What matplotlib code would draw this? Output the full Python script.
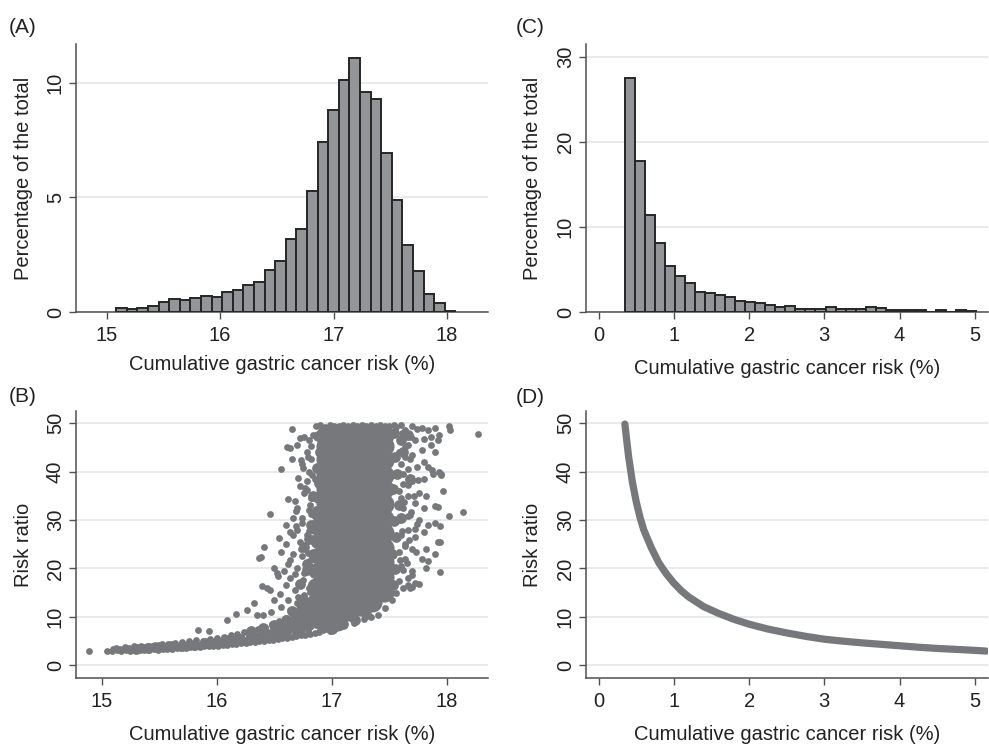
import numpy as np
import matplotlib
matplotlib.use("Agg")
import matplotlib.pyplot as plt

plt.rcParams['font.family'] = ['Liberation Sans', 'DejaVu Sans']

# (A) histogram, bins of 0.0934 starting at 15.085
a_first_edge = 15.085
a_bin_width = 0.0934
a_pct = [0.16, 0.12, 0.19, 0.25, 0.42, 0.55, 0.52, 0.62, 0.71, 0.64,
         0.89, 0.97, 1.19, 1.32, 1.82, 2.24, 3.20, 3.63, 5.29, 7.41,
         8.82, 10.12, 11.10, 9.59, 9.27, 6.92, 4.88, 2.94, 1.77, 0.78,
         0.39, 0.06]

# (C) histogram, bins of 0.133 starting at 0.35
c_first_edge = 0.35
c_bin_width = 0.1333
c_pct = [27.46, 17.70, 11.36, 8.07, 5.37, 4.23, 3.41, 2.35, 2.27, 2.00,
         1.80, 1.29, 1.21, 1.10, 0.82, 0.55, 0.67, 0.39, 0.39, 0.39,
         0.55, 0.31, 0.31, 0.31, 0.59, 0.43, 0.24, 0.27, 0.20, 0.20,
         0.04, 0.20, 0.04, 0.20, 0.08]

# (B) scatter: dense core of the cloud
b_core_x = [16.95] * 13 + [17.05] * 13 + [17.15] * 13 + [17.25] * 13 + [17.35] * 13 + [17.45] * 12
b_core_y = [12.4, 15.6, 18.5, 21.4, 24.6, 27.5, 30.4, 33.6, 36.5, 39.4, 42.6, 45.3, 47.6,
            10.9, 14.1, 17.0, 20.1, 22.9, 26.0, 29.1, 32.0, 35.1, 37.9, 41.0, 44.1, 47.5,
            11.3, 14.4, 17.4, 20.3, 23.4, 26.6, 29.4, 32.5, 35.6, 38.4, 41.5, 44.6, 47.6,
            12.2, 15.1, 18.2, 21.2, 24.3, 27.2, 30.3, 33.4, 36.3, 39.2, 42.4, 45.4, 47.5,
            13.1, 16.2, 19.1, 22.0, 25.1, 28.2, 31.1, 34.2, 37.1, 40.2, 43.1, 45.9, 47.6,
            15.2, 18.3, 21.3, 24.2, 27.4, 30.2, 33.3, 36.4, 39.3, 42.3, 45.2, 47.5]
b_core2_x = [16.85, 16.85, 16.85, 16.86, 16.87, 16.88, 16.76, 16.76, 16.66, 16.58,
             16.95, 17.05, 16.86, 16.88]
b_core2_y = [10.2, 13.3, 16.4, 19.5, 22.6, 25.7, 9.4, 12.3, 8.6, 7.6,
             9.4, 8.8, 28.6, 31.4]

# (B) scatter: thick parts of the lower band and ragged edges of the core
b_mid_x = [15.30, 15.40, 15.50, 15.60, 15.70, 15.80, 15.90, 16.00, 16.10, 16.20,
           16.30, 16.40, 16.50, 16.60, 16.70, 16.80, 16.90, 16.30, 16.40, 16.50,
           16.60, 16.70, 16.80, 16.65, 16.75, 16.72, 16.78, 16.84, 17.00, 17.10,
           17.20, 17.30,
           17.53, 17.55, 17.52, 17.56, 17.54, 17.58, 17.53, 17.57, 17.55, 17.60,
           17.54, 17.62, 17.66, 17.60, 17.68,
           16.88, 16.89, 16.87, 16.90, 16.88, 16.80, 16.82, 16.78, 16.76, 16.84]
b_mid_y = [3.4, 3.5, 3.7, 3.9, 4.1, 4.3, 4.6, 4.9, 5.2, 5.5,
           5.9, 6.3, 6.7, 7.2, 7.8, 8.4, 9.0, 7.1, 7.7, 8.4,
           9.4, 10.4, 11.4, 11.3, 13.6, 16.8, 19.6, 22.9, 7.6, 8.6,
           9.4, 10.6,
           16.5, 19.8, 23.0, 26.5, 29.8, 33.0, 36.4, 39.6, 43.0, 46.5,
           48.0, 44.0, 47.5, 30.5, 38.5,
           34.5, 37.6, 40.8, 44.0, 47.4, 26.0, 29.0, 21.0, 24.5, 35.0]

# (B) scatter: band, fringes and outliers
b_x = [14.89,
       15.05, 15.09, 15.13, 15.17, 15.21, 15.25, 15.29, 15.33, 15.37, 15.41, 15.45, 15.49,
       15.53, 15.57, 15.61, 15.65, 15.69, 15.73, 15.77, 15.81, 15.85, 15.89, 15.93, 15.97,
       16.01, 16.05, 16.09, 16.13, 16.17, 16.21, 16.25, 16.29, 16.33, 16.37, 16.41, 16.45,
       16.49, 16.53, 16.57, 16.61, 16.65, 16.69, 16.73, 16.77, 16.81, 16.85, 16.89,
       15.12, 15.20, 15.28, 15.34, 15.40, 15.46, 15.52, 15.58, 15.64, 15.70, 15.76, 15.82,
       15.88, 15.94, 16.00, 16.06, 16.12, 16.18, 16.24, 16.30, 16.36, 16.42, 16.48, 16.54,
       16.60, 16.66, 16.72, 16.78,
       15.92, 15.98, 16.04, 16.10, 16.16, 16.22, 16.28, 16.34, 16.40, 16.46, 16.52, 16.58,
       16.64, 16.70, 16.76, 16.82,
       16.30, 16.44, 16.50, 16.56, 16.62, 16.68, 16.74, 16.80, 16.86, 16.92, 16.98, 17.04,
       17.10, 17.19, 17.30, 17.46, 16.97, 17.04, 16.62, 16.70,
       15.84, 15.93, 16.09, 16.17, 16.26, 16.32, 16.39, 16.38, 16.41, 16.37, 16.46, 16.56,
       16.65, 16.61, 16.64, 16.65, 16.54, 16.50, 16.52, 16.53, 16.40, 16.35, 16.47,
       16.84, 16.80, 16.76, 16.72, 16.70, 16.78, 16.82, 16.74, 16.80, 16.85, 16.78, 16.72,
       16.76, 16.82, 16.68, 16.62, 16.70, 16.80, 16.74, 16.66, 16.60, 16.64, 16.70, 16.78,
       16.84, 16.72, 16.60, 16.56, 16.66, 16.74, 16.80, 16.62, 16.70, 16.58, 16.76, 16.64,
       16.72, 16.80, 16.60, 16.68, 16.76, 16.55, 16.62, 16.70, 16.50, 16.56, 16.64, 16.46,
       16.44,
       16.86, 16.90, 16.94, 16.98, 17.02, 17.06, 17.10, 17.14, 17.18, 17.22, 17.26, 17.30,
       17.34, 17.38, 17.42, 17.46, 17.50, 17.54,
       17.56, 17.60, 17.64, 17.70, 17.74, 17.78, 17.84, 17.90, 17.93, 17.92, 17.86, 17.80,
       17.72, 17.66, 17.60, 17.58, 17.64, 17.70, 17.78, 17.86, 17.90, 17.80, 17.74, 17.66,
       17.60, 17.84, 17.88, 17.93, 17.95, 17.80, 17.70, 17.62, 17.58, 17.66, 17.76, 17.82,
       17.72, 17.62, 17.80, 17.90, 17.92, 17.68, 17.58, 17.76, 17.84, 17.90, 17.94, 17.66,
       17.60, 17.72, 17.80, 17.64, 17.70, 17.58, 17.82, 17.92, 17.78, 17.64, 17.60, 17.84,
       17.82, 17.70, 17.66, 17.58, 17.72, 17.62, 17.56, 17.52, 17.40, 17.34, 17.28, 17.90,
       17.94, 17.94, 17.76, 17.66, 17.70,
       18.02, 18.03, 18.27, 17.97, 18.02, 18.14, 17.95, 17.87,
       15.10, 15.16, 15.24, 15.31, 15.38, 15.44, 15.55, 15.62, 15.68, 15.75, 15.86, 16.03,
       16.15, 16.27, 16.35, 16.58, 16.68, 16.73, 16.79, 16.90, 16.96, 17.02,
       16.82, 16.79, 16.75, 16.83, 16.71, 16.77, 16.81, 16.69, 16.74, 16.80, 16.66, 16.73,
       16.79, 16.83, 16.68, 16.75, 16.81, 16.71, 16.77, 16.64, 16.82, 16.78, 16.73, 16.69,
       17.61, 17.64, 17.68, 17.62, 17.66, 17.71, 17.63, 17.69, 17.74, 17.61, 17.67, 17.73,
       17.65, 17.70, 17.62, 17.68, 17.75, 17.63, 17.69, 17.60, 17.66, 17.72, 17.64, 17.59]
b_y = [3.0,
       3.0, 3.0, 3.1, 3.0, 3.1, 3.0, 3.2, 3.1, 3.2, 3.1, 3.3, 3.2,
       3.3, 3.4, 3.4, 3.5, 3.6, 3.6, 3.7, 3.8, 3.8, 3.9, 4.0, 4.0,
       4.1, 4.2, 4.3, 4.4, 4.5, 4.6, 4.6, 4.8, 4.9, 5.0, 5.1, 5.2,
       5.3, 5.4, 5.6, 5.7, 5.9, 6.0, 6.2, 6.3, 6.5, 6.7, 6.8,
       3.6, 3.7, 3.9, 4.1, 3.9, 4.2, 4.4, 4.5, 4.6, 4.8, 5.0, 5.3,
       5.0, 5.4, 5.7, 5.9, 6.2, 6.5, 6.8, 7.2, 7.6, 8.0, 8.5, 9.1,
       9.8, 10.6, 11.5, 12.6,
       4.7, 4.9, 5.0, 5.3, 5.5, 5.7, 6.0, 6.2, 6.5, 6.8, 7.2, 7.5,
       8.0, 8.5, 9.0, 9.6,
       5.4, 5.9, 6.2, 6.5, 6.9, 7.2, 7.6, 8.0, 8.4, 7.4, 7.0, 7.7,
       8.6, 8.8, 10.1, 11.8, 8.2, 8.0, 9.6, 10.2,
       7.2, 7.0, 9.4, 10.7, 11.5, 12.9, 16.3, 22.4, 24.4, 22.2, 31.2, 40.6,
       48.8, 45.0, 44.8, 42.6, 26.3, 20.0, 19.0, 18.5, 10.5, 10.3, 11.0,
       47.6, 46.5, 47.2, 47.0, 45.5, 44.0, 42.5, 41.5, 40.0, 38.5, 38.0, 37.0,
       35.5, 34.5, 34.0, 34.3, 32.5, 32.0, 30.5, 30.5, 29.0, 27.5, 28.0, 27.0,
       26.0, 25.5, 25.0, 23.5, 23.0, 22.5, 21.5, 21.0, 20.0, 19.5, 19.0, 18.0,
       17.0, 16.0, 16.5, 15.5, 14.5, 14.8, 13.5, 12.8, 13.5, 12.0, 11.5, 15.5,
       16.0,
       49.4, 49.6, 49.3, 49.7, 49.5, 49.4, 49.7, 49.5, 49.6, 49.4, 49.7, 49.5,
       49.6, 49.4, 49.7, 49.5, 49.4, 49.6,
       49.2, 49.6, 48.5, 49.5, 48.8, 49.0, 48.6, 48.9, 47.6, 46.5, 47.2, 46.8,
       46.5, 45.5, 46.5, 44.0, 43.0, 43.5, 44.5, 45.5, 44.0, 42.0, 41.0, 40.5,
       41.5, 41.0, 39.5, 40.0, 39.3, 38.5, 38.0, 37.5, 36.0, 35.0, 35.5, 35.0,
       33.5, 32.5, 32.5, 32.8, 32.6, 31.0, 30.0, 30.0, 29.0, 29.3, 28.7, 28.0,
       27.0, 26.5, 27.5, 25.0, 24.0, 23.5, 24.0, 25.5, 22.0, 22.0, 20.5, 21.5,
       20.0, 19.5, 18.0, 17.5, 17.0, 16.0, 15.0, 13.5, 10.5, 10.0, 9.5, 23.0,
       19.3, 25.5, 16.8, 16.5, 16.2,
       49.5, 48.5, 47.7, 36.0, 30.8, 31.6, 39.6, 40.3,
       3.3, 3.4, 3.5, 3.7, 3.8, 4.0, 4.0, 4.2, 4.3, 4.5, 4.4, 4.8,
       5.1, 5.4, 5.8, 6.0, 6.6, 7.0, 7.3, 7.8, 7.6, 7.9,
       45.2, 43.1, 40.8, 39.2, 38.6, 36.7, 33.1, 31.9, 29.4, 27.8, 26.9, 24.1,
       23.2, 20.3, 18.9, 17.6, 15.2, 14.1, 12.4, 21.7, 31.3, 36.2, 42.4, 28.7,
       47.9, 45.1, 42.6, 39.4, 37.2, 35.0, 33.8, 31.6, 29.1, 27.7, 25.9, 23.3,
       21.1, 18.7, 19.6, 15.9, 38.2, 43.9, 47.1, 34.6, 30.9, 28.2, 24.6, 21.8]

# (D) risk ratio against cumulative risk
d_x = [0.35, 0.37, 0.40, 0.45, 0.50, 0.55, 0.60, 0.70, 0.80, 0.90, 1.00, 1.10, 1.20,
       1.40, 1.60, 1.80, 2.00, 2.25, 2.50, 2.75, 3.00, 3.25, 3.50, 3.75, 4.00, 4.25,
       4.50, 4.75, 5.00, 5.15]
d_y = [49.8, 47.0, 43.0, 37.8, 33.8, 30.6, 28.0, 24.3, 21.2, 18.9, 17.0, 15.4, 14.1,
       12.1, 10.7, 9.5, 8.5, 7.5, 6.7, 6.0, 5.4, 5.0, 4.65, 4.35, 4.05, 3.75,
       3.5, 3.3, 3.1, 2.95]

xlab = "Cumulative gastric cancer risk (%)"
bar_face = "#939599"
bar_edge = "#262626"
dot = "#77787c"

fig = plt.figure(figsize=(9.89, 7.47), dpi=100)
axA = fig.add_axes([0.0768, 0.5823, 0.4166, 0.3588])
axC = fig.add_axes([0.5925, 0.5823, 0.4065, 0.3588])
axB = fig.add_axes([0.0768, 0.0924, 0.4166, 0.3574])
axD = fig.add_axes([0.5925, 0.0924, 0.4065, 0.3574])


def style(ax, ylabel, ylab_x, xlab_y):
    ax.spines['top'].set_visible(False)
    ax.spines['right'].set_visible(False)
    for s in ('left', 'bottom'):
        ax.spines[s].set_color('#505050')
        ax.spines[s].set_linewidth(1.1)
    ax.grid(axis='y', color='#e6e6e6', linewidth=1.2)
    ax.set_axisbelow(True)
    ax.tick_params(direction='out', length=5, width=1, color='#505050',
                   labelsize=14.5, labelcolor='#222222')
    ax.tick_params(axis='x', pad=5)
    ax.tick_params(axis='y', pad=3)
    for t in ax.get_yticklabels():
        t.set_rotation(90)
        t.set_va('center')
    ax.set_ylabel(ylabel, fontsize=14.5, color='#222222')
    ax.yaxis.set_label_coords(ylab_x, 0.5)
    ax.set_xlabel(xlab, fontsize=14.5, color='#222222')
    ax.xaxis.set_label_coords(0.5, xlab_y)


# (A)
a_edges = a_first_edge + a_bin_width * np.arange(len(a_pct))
axA.bar(a_edges, a_pct, width=a_bin_width, align='edge', color=bar_face,
        edgecolor=bar_edge, linewidth=1.4, zorder=3)
axA.set_xlim(14.73, 18.36)
axA.set_ylim(0, 11.69)
axA.set_xticks([15, 16, 17, 18])
axA.set_yticks([0, 5, 10])
style(axA, "Percentage of the total", -0.104, -0.16)

# (C)
c_edges = c_first_edge + c_bin_width * np.arange(len(c_pct))
axC.bar(c_edges, c_pct, width=c_bin_width, align='edge', color=bar_face,
        edgecolor=bar_edge, linewidth=1.4, zorder=3)
axC.set_xlim(-0.167, 5.175)
axC.set_ylim(0, 31.49)
axC.set_xticks([0, 1, 2, 3, 4, 5])
axC.set_yticks([0, 10, 20, 30])
style(axC, "Percentage of the total", -0.109, -0.175)

# (B)
axB.scatter(b_x, b_y, s=24, color=dot, linewidths=0, zorder=3)
axB.scatter(b_mid_x, b_mid_y, s=60, color=dot, linewidths=0, zorder=3)
axB.scatter(b_core2_x, b_core2_y, s=130, color=dot, linewidths=0, zorder=3)
axB.scatter(b_core_x, b_core_y, s=210, color=dot, linewidths=0, zorder=3)
axB.set_xlim(14.776, 18.357)
axB.set_ylim(-2.6, 52.5)
axB.set_xticks([15, 16, 17, 18])
axB.set_yticks([0, 10, 20, 30, 40, 50])
style(axB, "Risk ratio", -0.104, -0.175)

# (D)
axD.plot(d_x, d_y, color=dot, linewidth=5.2, solid_capstyle='round',
         solid_joinstyle='round', zorder=3)
axD.set_xlim(-0.167, 5.175)
axD.set_ylim(-2.6, 52.5)
axD.set_xticks([0, 1, 2, 3, 4, 5])
axD.set_yticks([0, 10, 20, 30, 40, 50])
style(axD, "Risk ratio", -0.109, -0.175)

for lab, x, y in [("(A)", 0.009, 0.9558), ("(C)", 0.5214, 0.9558),
                  ("(B)", 0.009, 0.4622), ("(D)", 0.5214, 0.4600)]:
    fig.text(x, y, lab, fontsize=15, color='#222222', va='baseline', ha='left')

fig.savefig("out.png", dpi=100)
